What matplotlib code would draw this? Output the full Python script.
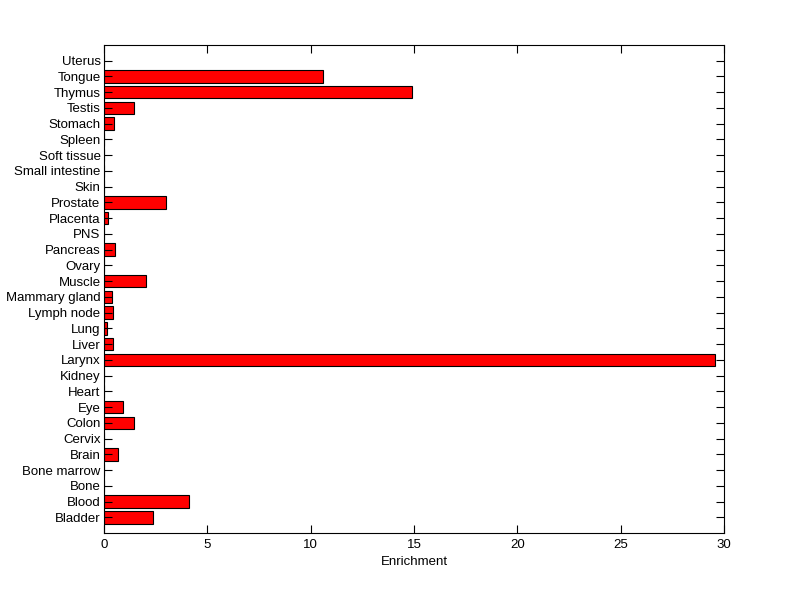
import numpy as np
import matplotlib
matplotlib.use('Agg')
import matplotlib.pyplot as plt

tissues = ['Bladder', 'Blood', 'Bone', 'Bone marrow', 'Brain', 'Cervix', 'Colon',
           'Eye', 'Heart', 'Kidney', 'Larynx', 'Liver', 'Lung', 'Lymph node',
           'Mammary gland', 'Muscle', 'Ovary', 'Pancreas', 'PNS', 'Placenta',
           'Prostate', 'Skin', 'Small intestine', 'Soft tissue', 'Spleen',
           'Stomach', 'Testis', 'Thymus', 'Tongue', 'Uterus']
enrichment = [2.36, 4.1, 0, 0, 0.66, 0, 1.44,
              0.9, 0, 0, 29.57, 0.42, 0.16, 0.42,
              0.37, 2.05, 0, 0.52, 0, 0.21,
              3.02, 0, 0, 0, 0,
              0.47, 1.47, 14.88, 10.6, 0]

plt.rcParams['font.family'] = ['Liberation Sans', 'DejaVu Sans']

fig = plt.figure(figsize=(8, 5.99), dpi=100)
ax = fig.add_axes([0.13, 0.11, 0.775, 0.815])

pos = np.arange(1, len(tissues) + 1)
ax.barh(pos, enrichment, height=0.8, color='#ff0000', edgecolor='black', linewidth=0.8)

ax.set_xlim(0, 30)
ax.set_ylim(0, len(tissues) + 1)
ax.set_xticks(np.arange(0, 31, 5))
ax.set_yticks(pos)
ax.set_yticklabels(tissues)
ax.set_xlabel('Enrichment', fontsize=9.5, labelpad=4)
ax.tick_params(axis='both', direction='in', length=6, width=0.8, labelsize=9.5,
               top=True, right=True)
ax.tick_params(axis='y', pad=2.5)
ax.tick_params(axis='x', pad=4)
for s in ax.spines.values():
    s.set_linewidth(0.8)

fig.savefig('out.png', dpi=100)
